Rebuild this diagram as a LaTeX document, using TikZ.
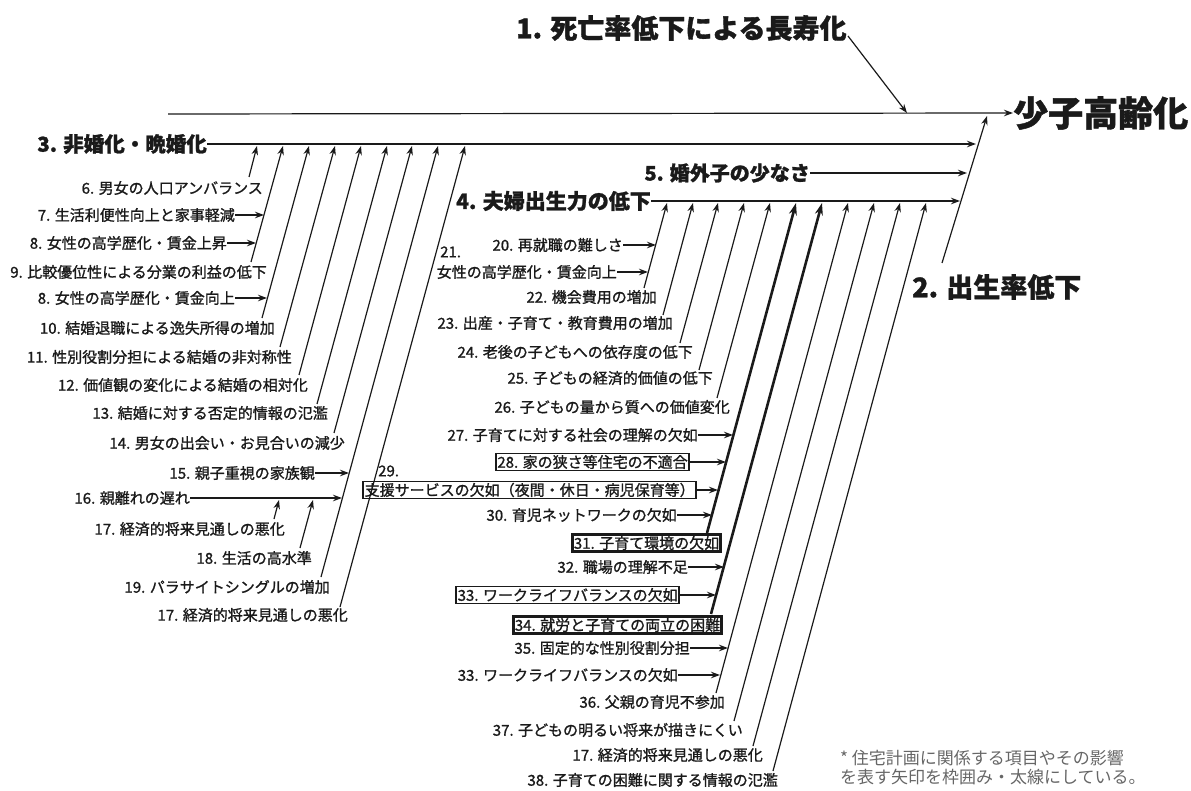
\documentclass[tikz,border=0pt]{standalone}
\usepackage{fontspec}
\setmainfont{Noto Sans CJK JP}[BoldFeatures={FakeBold=1.2}]
\newfontfamily\lblfont{Noto Sans CJK JP}[FakeBold=1.2]
\usetikzlibrary{arrows.meta}
\definecolor{ink}{HTML}{1A1A1A}
\definecolor{note}{HTML}{666666}
\tikzset{
  lbl/.style={anchor=east, inner sep=0pt, font=\lblfont\fontsize{15}{17}\selectfont, text=ink},
  lblw/.style={lbl, anchor=west},
  box/.style={lbl, draw=ink, line width=1.6pt, inner sep=1.5pt},
  tbox/.style={box, line width=2.6pt},
  head/.style={inner sep=0pt, text=ink},
  ln/.style={draw=ink, line width=1.2pt},
  arr/.style={ln, -{Stealth[length=9pt,width=6.5pt]}},
  tarr/.style={draw=ink, line width=2.6pt, -{Stealth[length=12pt,width=8pt]}},
  fnote/.style={anchor=west, inner sep=0pt, text=note, font=\fontsize{17}{19}\selectfont},
}
\begin{document}
\begin{tikzpicture}[x=1pt,y=-1pt]
\useasboundingbox (0,0) rectangle (1191,791);

% ---------- headings ----------
\node[head, anchor=west, font=\bfseries\fontsize{27}{30}\selectfont] (h1) at (516,28) {1. 死亡率低下による長寿化};
\node[head, anchor=west, font=\bfseries\fontsize{35}{40}\selectfont] (goal) at (1013,113) {少子高齢化};
\node[head, anchor=west, font=\bfseries\fontsize{27}{30}\selectfont] (h2) at (912,287) {2. 出生率低下};
\node[head, anchor=east, font=\bfseries\fontsize{20.5}{24}\selectfont] (h3) at (207,144) {3. 非婚化・晩婚化};
\node[head, anchor=east, font=\bfseries\fontsize{21}{24}\selectfont] (h4) at (651,201) {4. 夫婦出生力の低下};
\node[head, anchor=east, font=\bfseries\fontsize{20}{24}\selectfont] (h5) at (810,173) {5. 婚外子の少なさ};

% ---------- main lines ----------
\coordinate (t0) at (168,114);
\coordinate (l2b) at (942,263);
\coordinate (l2t) at (987,116);
\coordinate (a1s) at (848,36);
\coordinate (a1t) at (907,113);
\draw[arr] (t0) -- (goal.west);
\draw[arr] (a1s) -- (a1t);
\draw[arr] (l2b) -- (l2t);
\draw[arr] (h3.east) -- (976,144);
\draw[arr] (h5.east) -- (967,173);
\draw[arr] (h4.east) -- (960,201);

% ---------- left block labels ----------
\node[lbl] (n6)  at (263,188) {6. 男女の人口アンバランス};
\node[lbl] (n7)  at (235,215) {7. 生活利便性向上と家事軽減};
\node[lbl] (n8)  at (227,243) {8. 女性の高学歴化・賃金上昇};
\node[lbl] (n9)  at (267,272) {9. 比較優位性による分業の利益の低下};
\node[lbl] (n8b) at (235,298) {8. 女性の高学歴化・賃金向上};
\node[lbl] (n10) at (275,328) {10. 結婚退職による逸失所得の増加};
\node[lbl] (n11) at (292,357) {11. 性別役割分担による結婚の非対称性};
\node[lbl] (n12) at (308,385) {12. 価値観の変化による結婚の相対化};
\node[lbl] (n13) at (328,413) {13. 結婚に対する否定的情報の氾濫};
\node[lbl] (n14) at (345,443) {14. 男女の出会い・お見合いの減少};
\node[lbl] (n15) at (315,473) {15. 親子重視の家族観};
\node[lbl] (n16) at (190,498) {16. 親離れの遅れ};
\node[lbl] (n17) at (285,529) {17. 経済的将来見通しの悪化};
\node[lbl] (n18) at (312,558) {18. 生活の高水準};
\node[lbl] (n19) at (330,587) {19. パラサイトシングルの増加};
\node[lbl] (n17b) at (348,615) {17. 経済的将来見通しの悪化};

% left diagonals
\coordinate (L0b) at (249,177); \coordinate (L0t) at (257,146);
\coordinate (L1b) at (251,262); \coordinate (L1t) at (283,146);
\coordinate (L2b) at (262,318); \coordinate (L2t) at (309,146);
\coordinate (L3b) at (280,347); \coordinate (L3t) at (335,146);
\coordinate (L4b) at (299,375); \coordinate (L4t) at (361,146);
\coordinate (L5b) at (317,404); \coordinate (L5t) at (387,146);
\coordinate (L6b) at (334,433); \coordinate (L6t) at (412,146);
\coordinate (L7b) at (321,577); \coordinate (L7t) at (438,146);
\coordinate (L8b) at (340,607); \coordinate (L8t) at (465,146);
\foreach \k in {0,...,8} { \draw[arr] (L\k b) -- (L\k t); }

% left horizontal feeders
\coordinate (f7)  at (264,215);
\coordinate (f8)  at (256,243);
\coordinate (f8b) at (267,298);
\coordinate (f15) at (349,473);
\coordinate (f16) at (342,498);
\draw[arr] (n7.east) -- (f7);
\draw[arr] (n8.east) -- (f8);
\draw[arr] (n8b.east) -- (f8b);
\draw[arr] (n15.east) -- (f15);
\draw[arr] (n16.east) -- (f16);
\coordinate (s17) at (274,519); \coordinate (e17) at (279,500);
\coordinate (s18) at (300,548); \coordinate (e18) at (313,500);
\draw[arr] (s17) -- (e17);
\draw[arr] (s18) -- (e18);

% ---------- middle block labels ----------
\node[lbl] (n20) at (623,245) {20. 再就職の難しさ};
\node[lblw] (n21a) at (440,252) {21.};
\node[lbl] (n21) at (617,272) {女性の高学歴化・賃金向上};
\node[lbl] (n22) at (657,297) {22. 機会費用の増加};
\node[lbl] (n23) at (673,323) {23. 出産・子育て・教育費用の増加};
\node[lbl] (n24) at (693,352) {24. 老後の子どもへの依存度の低下};
\node[lbl] (n25) at (713,378) {25. 子どもの経済的価値の低下};
\node[lbl] (n26) at (730,407) {26. 子どもの量から質への価値変化};
\node[lbl] (n27) at (698,435) {27. 子育てに対する社会の理解の欠如};
\node[box] (n28) at (690,462) {28. 家の狭さ等住宅の不適合};
\node[box] (n29) at (697,490) {支援サービスの欠如（夜間・休日・病児保育等）};
\node[lblw] (n29a) at (378,471) {29.};
\node[lbl] (n30) at (677,515) {30. 育児ネットワークの欠如};
\node[tbox] (n31) at (722,543) {31. 子育て環境の欠如};
\node[lbl] (n32) at (688,567) {32. 職場の理解不足};
\node[box] (n33) at (680,595) {33. ワークライフバランスの欠如};
\node[tbox] (n34) at (723,625) {34. 就労と子育ての両立の困難};
\node[lbl] (n35) at (690,648) {35. 固定的な性別役割分担};
\node[lbl] (n33b) at (678,675) {33. ワークライフバランスの欠如};
\node[lbl] (n36) at (725,702) {36. 父親の育児不参加};
\node[lbl] (n37) at (743,730) {37. 子どもの明るい将来が描きにくい};
\node[lbl] (n17c) at (763,755) {17. 経済的将来見通しの悪化};
\node[lbl] (n38) at (778,780) {38. 子育ての困難に関する情報の氾濫};

% middle diagonals
\coordinate (M0b) at (644,288);  \coordinate (M0t) at (667,203);
\coordinate (M1b) at (663,315);  \coordinate (M1t) at (693,203);
\coordinate (M2b) at (680,343);  \coordinate (M2t) at (718,203);
\coordinate (M3b) at (699,370);  \coordinate (M3t) at (744,203);
\coordinate (M4b) at (717,398);  \coordinate (M4t) at (770,203);
\coordinate (M5b) at (707,533);  \coordinate (M5t) at (796,203);
\coordinate (M6b) at (711,614);  \coordinate (M6t) at (822,203);
\coordinate (M7b) at (716,693);  \coordinate (M7t) at (848,203);
\coordinate (M8b) at (734,721);  \coordinate (M8t) at (874,203);
\coordinate (M9b) at (753,746);  \coordinate (M9t) at (900,203);
\coordinate (M10b) at (773,771); \coordinate (M10t) at (926,203);
\foreach \k in {0,1,2,3,4,7,8,9,10} { \draw[arr] (M\k b) -- (M\k t); }
\draw[tarr] (M5b) -- (M5t);
\draw[tarr] (M6b) -- (M6t);

% middle horizontal feeders
\coordinate (f20) at (656,245);
\coordinate (f21) at (648,272);
\coordinate (f27) at (733,435);
\coordinate (f28) at (726,462);
\coordinate (f29) at (718,490);
\coordinate (f30) at (712,515);
\coordinate (f32) at (724,567);
\coordinate (f33) at (716,595);
\coordinate (f35) at (728,648);
\coordinate (f33b) at (720,675);
\draw[arr] (n20.east) -- (f20);
\draw[arr] (n21.east) -- (f21);
\draw[arr] (n27.east) -- (f27);
\draw[arr] (n28.east) -- (f28);
\draw[arr] (n29.east) -- (f29);
\draw[arr] (n30.east) -- (f30);
\draw[arr] (n32.east) -- (f32);
\draw[arr] (n33.east) -- (f33);
\draw[arr] (n35.east) -- (f35);
\draw[arr] (n33b.east) -- (f33b);

% ---------- footnote ----------
\node[fnote] (fn1) at (840,758) {* 住宅計画に関係する項目やその影響};
\node[fnote] (fn2) at (840,777) {を表す矢印を枠囲み・太線にしている。};
\end{tikzpicture}
\end{document}
